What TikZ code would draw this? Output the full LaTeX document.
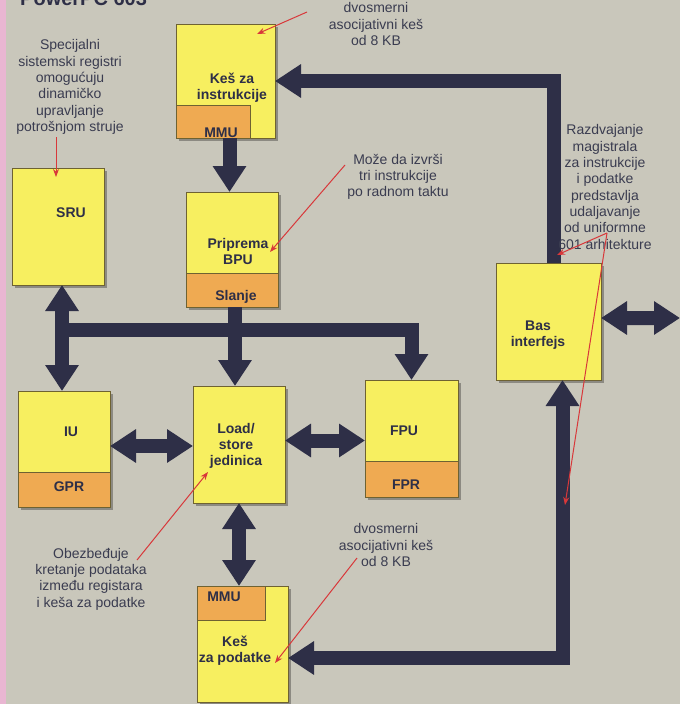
\documentclass[tikz,border=0pt]{standalone}
\usepackage{fontspec}
\setmainfont{Liberation Sans}
\usetikzlibrary{arrows.meta,shadows}
\definecolor{bg}{HTML}{C9C7BB}
\definecolor{boxy}{HTML}{F7EF60}
\definecolor{boxo}{HTML}{EFAA52}
\definecolor{edgec}{HTML}{6E6232}
\definecolor{navy}{HTML}{2E2F47}
\definecolor{txt}{HTML}{3A3C50}
\definecolor{redl}{HTML}{D8383A}
\definecolor{pinkedge}{HTML}{E9B6D2}
\begin{document}
\begin{tikzpicture}[x=1bp,y=-1bp,
  ybox/.style={draw=edgec, line width=0.8bp, fill=boxy, inner sep=0, outer sep=0, anchor=north west,
    drop shadow={shadow xshift=3bp, shadow yshift=-3bp, opacity=0.3, fill=black}},
  obox/.style={draw=edgec, line width=0.8bp, fill=boxo, inner sep=0, outer sep=0, anchor=north west},
  lbl/.style={font=\fontsize{14bp}{16bp}\selectfont\bfseries, text=navy, align=center, inner sep=0},
  note/.style={font=\fontsize{14bp}{16.3bp}\selectfont, text=txt, align=center, inner sep=0},
  Big/.tip={Triangle[width=32bp,length=26bp]},
  bus/.style={draw=navy, line width=14bp, line join=miter},
  callout/.style={draw=redl, line width=1bp, -{Stealth[length=8bp,width=6bp]}}
]
\fill[bg] (0,0) rectangle (680,704);
\useasboundingbox (0,0) rectangle (680,704);
\fill[pinkedge] (0,0) rectangle (6,704);

% partially visible title
\begin{scope}
\clip (0,0) rectangle (680,704);
\node[anchor=base west, inner sep=0, font=\fontsize{20bp}{22bp}\selectfont\bfseries, text=navy] (title) at (20,6) {PowerPC 603};
\end{scope}

% boxes
\node[ybox, minimum width=99bp, minimum height=114bp] (kesi) at (176,24) {};
\node[obox, minimum width=74bp, minimum height=33bp] (mmui) at (176,105) {};
\node[ybox, minimum width=92bp, minimum height=115bp] (bpu) at (186,192) {};
\node[obox, minimum width=92bp, minimum height=34bp] (slanje) at (186,273) {};
\node[ybox, minimum width=92bp, minimum height=117bp] (sru) at (12,168) {};
\node[ybox, minimum width=92bp, minimum height=116bp] (iu) at (18,391) {};
\node[obox, minimum width=92bp, minimum height=35bp] (gpr) at (18,472) {};
\node[ybox, minimum width=92bp, minimum height=117bp] (ls) at (193,386) {};
\node[ybox, minimum width=93bp, minimum height=117bp] (fpu) at (365,380) {};
\node[obox, minimum width=93bp, minimum height=36bp] (fpr) at (365,461) {};
\node[ybox, minimum width=91bp, minimum height=116bp] (kesp) at (197,586) {};
\node[obox, minimum width=68bp, minimum height=34bp] (mmup) at (197,586) {};
\node[ybox, minimum width=105bp, minimum height=117bp] (bas) at (496,263) {};

% box labels
\node[lbl] (tkesi) at (232,88) {Keš za\\instrukcije};
\node[lbl, anchor=base] (tmmui) at (221,138) {MMU};
\node[lbl] (tbpu) at (238,251) {Priprema\\BPU};
\node[lbl] (tslanje) at (236,297) {Slanje};
\node[lbl] (tsru) at (71,213) {SRU};
\node[lbl] (tiu) at (71,432) {IU};
\node[lbl] (tgpr) at (69,487) {GPR};
\node[lbl] (tls) at (236,446) {Load/\\store\\jedinica};
\node[lbl] (tfpu) at (404,431) {FPU};
\node[lbl] (tfpr) at (406,485) {FPR};
\node[lbl] (tmmup) at (224,597) {MMU};
\node[lbl] (tkesp) at (235,651) {Keš\\za podatke};
\node[lbl] (tbas) at (538,335) {Bas\\interfejs};

% thick buses
\coordinate (busL) at (62,330);
\coordinate (edgeR) at (680,318);
\draw[bus,-Big] ([xshift=5bp]bas.north) |- (kesi.east);
\draw[bus,-Big] ([xshift=4bp]kesi.south) -- ([xshift=4bp]kesi.south |- bpu.north);
\draw[bus,Big-Big] ([xshift=4bp]sru.south) -- ([xshift=4bp]sru.south |- iu.north);
\draw[bus,-Big] (busL) -| (fpu.north);
\draw[bus,-Big] ([xshift=3bp]bpu.south) -- ([xshift=3bp]bpu.south |- ls.north);
\draw[bus,Big-Big] ([yshift=3bp]iu.east) -- ([yshift=3bp]iu.east -| ls.west);
\draw[bus,Big-Big] ([yshift=4bp]ls.east) -- ([yshift=4bp]ls.east -| fpu.west);
\draw[bus,Big-Big] (ls.south) -- (ls.south |- kesp.north);
\draw[bus,Big-Big] ([xshift=14bp]bas.south) |- ([yshift=-14bp]kesp.east);
\draw[bus,Big-Big] ([yshift=3.5bp]bas.east) -- (edgeR);

% annotations
\node[note] (n1) at (376,24) {dvosmerni\\asocijativni keš\\od 8 KB};
\node[note] (n2) at (70,87) {Specijalni\\sistemski registri\\omogućuju\\dinamičko\\upravljanje\\potrošnjom struje};
\node[note] (n3) at (398,177) {Može da izvrši\\tri instrukcije\\po radnom taktu};
\node[note] (n4) at (605,187) {Razdvajanje\\magistrala\\za instrukcije\\i podatke\\predstavlja\\udaljavanje\\od uniformne\\601 arhitekture};
\node[note] (n5) at (386,545) {dvosmerni\\asocijativni keš\\od 8 KB};
\node[note] (n6) at (91,579) {Obezbeđuje\\kretanje podataka\\između registara\\i keša za podatke};

% red callout lines
\coordinate (r1a) at (307,12);  \coordinate (r1b) at (257,34);
\coordinate (r2a) at (56,137);  \coordinate (r2b) at (56,177);
\coordinate (r3a) at (345,165); \coordinate (r3b) at (270,252);
\coordinate (r4a) at (607,233); \coordinate (r4b) at (557,255); \coordinate (r4c) at (565,505);
\coordinate (r5a) at (357,558); \coordinate (r5b) at (275,663);
\coordinate (r6a) at (137,560); \coordinate (r6b) at (208,472);
\draw[callout] (r1a) -- (r1b);
\draw[callout] (r2a) -- (r2b);
\draw[callout] (r3a) -- (r3b);
\draw[callout] (r4a) -- (r4b);
\draw[callout] (r4a) -- (r4c);
\draw[callout] (r5a) -- (r5b);
\draw[callout] (r6a) -- (r6b);
\end{tikzpicture}
\end{document}
